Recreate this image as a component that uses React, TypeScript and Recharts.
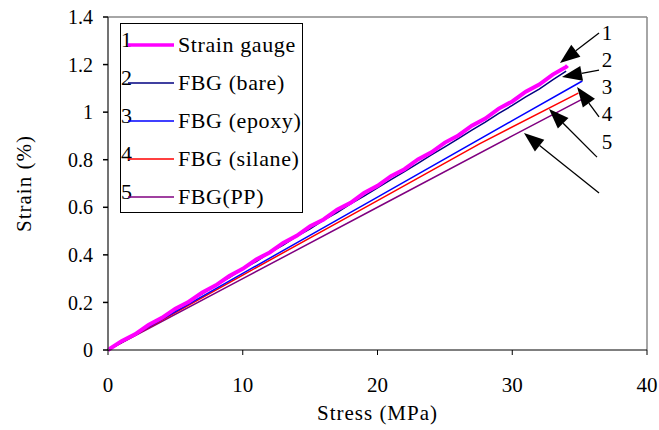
import { LineChart, Line, XAxis, YAxis, ReferenceLine, ReferenceDot } from 'recharts'

const FONT = "'Liberation Serif', 'Times New Roman', Times, serif"

const SERIES_NAMES = ['Strain gauge', 'FBG (bare)', 'FBG (epoxy)', 'FBG (silane)', 'FBG(PP)']
const SERIES_COLORS = ['#ff00ff', '#000080', '#0000ff', '#ff0000', '#800080']
const SERIES_WIDTHS = [4, 1.5, 1.5, 1.5, 1.5]

const X_TICKS = [0, 10, 20, 30, 40]
const Y_TICKS = [0, 0.2, 0.4, 0.6, 0.8, 1, 1.2, 1.4]

// strain gauge, noisy
const gaugeStress = [0, 1, 2, 3, 4, 5, 6, 7, 8, 9, 10, 11, 12, 13, 14, 15, 16, 17, 18, 19, 20, 21, 22, 23, 24, 25, 26, 27, 28, 29, 30, 31, 32, 33, 34, 34.1]
const gaugeStrain = [0, 0.037, 0.066, 0.105, 0.135, 0.174, 0.203, 0.242, 0.272, 0.311, 0.341, 0.381, 0.41, 0.45, 0.48, 0.52, 0.549, 0.59, 0.619, 0.66, 0.69, 0.731, 0.76, 0.801, 0.831, 0.872, 0.902, 0.943, 0.973, 1.015, 1.045, 1.086, 1.116, 1.158, 1.19, 1.196]

// bare FBG, just under the gauge
const bareStress = [0, 1, 2, 3, 4, 5, 6, 7, 8, 9, 10, 11, 12, 13, 14, 15, 16, 17, 18, 19, 20, 21, 22, 23, 24, 25, 26, 27, 28, 29, 30, 31, 32, 33, 34]
const bareStrain = [0, 0.033, 0.069, 0.1, 0.138, 0.168, 0.206, 0.236, 0.273, 0.304, 0.341, 0.372, 0.409, 0.441, 0.478, 0.509, 0.546, 0.578, 0.614, 0.647, 0.682, 0.716, 0.75, 0.785, 0.82, 0.854, 0.889, 0.924, 0.958, 0.995, 1.028, 1.064, 1.097, 1.136, 1.172]

const epoxyStress = [0, 10, 20, 30, 35.2]
const epoxyStrain = [0, 0.322, 0.643, 0.964, 1.131]

const silaneStress = [0, 10, 20, 27.6, 34.9]
const silaneStrain = [0, 0.315, 0.628, 0.868, 1.08]

const ppStress = [0, 10, 20, 30, 35.2]
const ppStrain = [0, 0.3, 0.6, 0.9, 1.055]

// annotation arrows: tail -> tip, in data units
const ARROW_TAIL_X = [36.44, 36.44, 36.44, 36.29, 36.44]
const ARROW_TAIL_Y = [1.333, 1.177, 0.98, 0.811, 0.66]
const ARROW_TIP_X = [33.54, 33.69, 34.81, 32.73, 30.87]
const ARROW_TIP_Y = [1.207, 1.148, 1.106, 1.013, 0.912]
const NUM_LABEL_X = 37.03
const NUM_LABEL_Y = [1.333, 1.219, 1.106, 0.992, 0.874]

const toPoints = (xs: number[], ys: number[]) => xs.map((x, i) => ({ x, y: ys[i] }))

const seriesData = [
  toPoints(gaugeStress, gaugeStrain),
  toPoints(bareStress, bareStrain),
  toPoints(epoxyStress, epoxyStrain),
  toPoints(silaneStress, silaneStrain),
  toPoints(ppStress, ppStrain),
]

function Arrow(props: any) {
  const { x1, y1, x2, y2 } = props
  const dx = x2 - x1
  const dy = y2 - y1
  const len = Math.sqrt(dx * dx + dy * dy)
  const ux = dx / len
  const uy = dy / len
  const head = 20
  const half = 7.5
  const bx = x2 - ux * head
  const by = y2 - uy * head
  return (
    <g>
      <line x1={x1} y1={y1} x2={bx} y2={by} stroke="#000" strokeWidth={1.3} />
      <polygon
        points={`${x2},${y2} ${bx - uy * half},${by + ux * half} ${bx + uy * half},${by - ux * half}`}
        fill="#000"
      />
    </g>
  )
}

function LegendBox() {
  return (
    <div
      style={{
        position: 'absolute',
        left: 120,
        top: 23,
        width: 181,
        height: 188,
        border: '1px solid #000',
        background: '#fff',
        fontFamily: FONT,
        fontSize: 22,
        letterSpacing: 0.6,
      }}
    >
      {SERIES_NAMES.map((name, i) => (
        <div key={name} style={{ position: 'absolute', left: 0, top: 8 + i * 38, height: 26, width: 181 }}>
          <span style={{ position: 'absolute', left: 0, top: -4, color: '#000', lineHeight: '24px' }}>{i + 1}</span>
          <svg width={48} height={26} style={{ position: 'absolute', left: 7, top: 0 }}>
            <line x1={0} y1={13} x2={46} y2={13} stroke={SERIES_COLORS[i]} strokeWidth={i === 0 ? 3.5 : 1.5} />
          </svg>
          <span style={{ position: 'absolute', left: 57, top: 1, color: '#000', whiteSpace: 'nowrap', lineHeight: '24px' }}>
            {name}
          </span>
        </div>
      ))}
    </div>
  )
}

export default function App() {
  return (
    <div style={{ position: 'absolute', left: 0, top: 0, width: 659, height: 430, background: '#fff', fontFamily: FONT }}>
      <LineChart width={659} height={430} margin={{ top: 17, right: 12, left: 0, bottom: 0 }} style={{ fontFamily: FONT }}>
        <XAxis
          type="number"
          dataKey="x"
          domain={[0, 40]}
          ticks={X_TICKS}
          interval={0}
          height={80}
          stroke="#000"
          tickSize={5}
          tickMargin={22}
          tick={{ fill: '#000', fontFamily: FONT, fontSize: 21 }}
          label={{
            content: ({ viewBox }: any) => (
              <text
                x={viewBox.x + viewBox.width / 2}
                y={viewBox.y + 70}
                textAnchor="middle"
                fontFamily={FONT}
                fontSize={21}
                letterSpacing={1}
                fill="#000"
              >
                Stress (MPa)
              </text>
            ),
          }}
        />
        <YAxis
          type="number"
          dataKey="y"
          domain={[0, 1.4]}
          ticks={Y_TICKS}
          interval={0}
          width={108}
          stroke="#444"
          strokeWidth={1.5}
          tickLine={{ stroke: '#000' }}
          tickSize={5}
          tickMargin={10}
          tick={{ fill: '#000', fontFamily: FONT, fontSize: 20 }}
          label={{
            content: ({ viewBox }: any) => (
              <text
                x={24}
                y={viewBox.y + viewBox.height / 2}
                textAnchor="middle"
                dominantBaseline="central"
                transform={`rotate(-90 24 ${viewBox.y + viewBox.height / 2})`}
                fontFamily={FONT}
                fontSize={21}
                letterSpacing={1}
                fill="#000"
              >
                Strain (%)
              </text>
            ),
          }}
        />
        <ReferenceLine y={1.4} stroke="#888" strokeWidth={1.5} />
        <ReferenceLine x={40} stroke="#888" strokeWidth={1.5} />
        {seriesData
          .map((data, i) => (
            <Line
              key={SERIES_NAMES[i]}
              data={data}
              dataKey="y"
              name={SERIES_NAMES[i]}
              type="linear"
              stroke={SERIES_COLORS[i]}
              strokeWidth={SERIES_WIDTHS[i]}
              dot={false}
              isAnimationActive={false}
            />
          ))
          .reverse()}
        {ARROW_TAIL_X.map((tx, i) => (
          <ReferenceLine
            key={`arrow-${i}`}
            segment={[
              { x: tx, y: ARROW_TAIL_Y[i] },
              { x: ARROW_TIP_X[i], y: ARROW_TIP_Y[i] },
            ]}
            shape={Arrow}
          />
        ))}
        {NUM_LABEL_Y.map((ly, i) => (
          <ReferenceDot
            key={`num-${i}`}
            x={NUM_LABEL_X}
            y={ly}
            r={0}
            shape={(p: any) => (
              <text x={p.cx} y={p.cy} textAnchor="middle" dominantBaseline="central" fontFamily={FONT} fontSize={21} fill="#000">
                {i + 1}
              </text>
            )}
          />
        ))}
      </LineChart>
      <LegendBox />
    </div>
  )
}
